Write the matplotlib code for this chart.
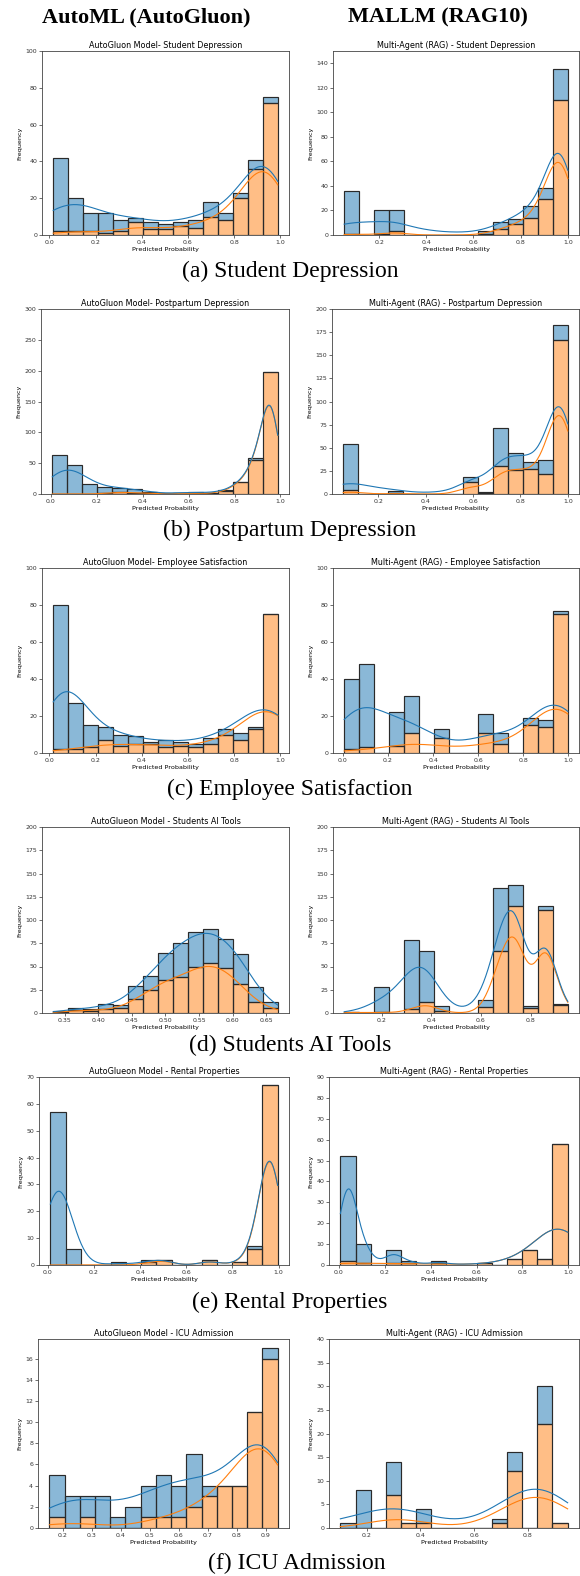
import matplotlib.pyplot as plt
import numpy as np

from typing import List, Tuple
from matplotlib.axes import Axes

# --- bin counts per panel: totals, and the class-1 (orange, bottom) part of each bar ---
# AutoGluon, Student Depression
sd_ag_range = (0.017, 0.989)
sd_ag_total = [42, 20, 12, 12, 8, 9, 7, 6, 7, 8, 18, 12, 23, 41, 75]
sd_ag_pos = [2, 2, 2, 1, 2, 7, 3, 3, 5, 4, 10, 8, 20, 36, 72]
# Multi-Agent, Student Depression
sd_ma_range = (0.052, 1.0)
sd_ma_total = [36, 0, 20, 20, 0, 0, 0, 0, 0, 3, 11, 13, 24, 38, 135]
sd_ma_pos = [1, 0, 1, 3, 0, 0, 0, 0, 0, 1, 5, 9, 14, 29, 110]
# AutoGluon, Postpartum Depression
pp_ag_range = (0.007, 0.988)
pp_ag_total = [63, 47, 16, 11, 9, 8, 3, 1, 1, 4, 2, 6, 20, 58, 198]
pp_ag_pos = [0, 0, 0, 1, 3, 2, 1, 0, 1, 1, 1, 5, 19, 55, 198]
# Multi-Agent, Postpartum Depression
pp_ma_range = (0.052, 1.0)
pp_ma_total = [54, 0, 0, 3, 0, 0, 0, 0, 18, 2, 71, 44, 35, 37, 183]
pp_ma_pos = [4, 0, 0, 1, 0, 0, 0, 0, 13, 1, 30, 26, 27, 22, 166]
# AutoGluon, Employee Satisfaction
es_ag_range = (0.017, 0.989)
es_ag_total = [80, 27, 15, 14, 10, 9, 6, 7, 6, 5, 8, 13, 11, 14, 75]
es_ag_pos = [2, 2, 3, 7, 4, 5, 5, 3, 4, 3, 5, 10, 7, 13, 75]
# Multi-Agent, Employee Satisfaction
es_ma_range = (0.006, 0.997)
es_ma_total = [40, 48, 0, 22, 31, 0, 13, 0, 0, 21, 11, 0, 19, 18, 77]
es_ma_pos = [2, 3, 0, 4, 11, 0, 8, 0, 0, 11, 5, 0, 15, 14, 75]
# AutoGluon, Students AI Tools
ai_ag_range = (0.333, 0.667)
ai_ag_total = [2, 5, 4, 10, 9, 29, 40, 64, 75, 87, 90, 80, 63, 28, 12]
ai_ag_pos = [1, 3, 2, 4, 5, 15, 25, 36, 39, 49, 54, 48, 31, 12, 5]
# Multi-Agent, Students AI Tools
ai_ma_range = (0.049, 0.950)
ai_ma_total = [1, 0, 28, 0, 78, 67, 8, 0, 0, 14, 134, 138, 7, 115, 10]
ai_ma_pos = [1, 0, 1, 0, 4, 12, 2, 0, 0, 6, 67, 115, 5, 111, 9]
# AutoGluon, Rental Properties
rp_ag_range = (0.011, 0.996)
rp_ag_total = [57, 6, 0, 0, 1, 0, 2, 2, 0, 0, 2, 0, 1, 7, 67]
rp_ag_pos = [0, 0, 0, 0, 0, 0, 1, 2, 0, 0, 2, 0, 1, 6, 67]
# Multi-Agent, Rental Properties
rp_ma_range = (0.006, 0.997)
rp_ma_total = [52, 10, 0, 7, 2, 0, 2, 0, 0, 1, 0, 3, 7, 3, 58]
rp_ma_pos = [2, 1, 0, 1, 1, 0, 1, 0, 0, 1, 0, 3, 7, 3, 58]
# AutoGluon, ICU Admission
icu_ag_range = (0.154, 0.941)
icu_ag_total = [5, 3, 3, 3, 1, 2, 4, 5, 4, 7, 4, 4, 4, 11, 17]
icu_ag_pos = [1, 0, 1, 0, 0, 0, 1, 1, 1, 2, 3, 4, 4, 11, 16]
# Multi-Agent, ICU Admission
icu_ma_range = (0.102, 0.948)
icu_ma_total = [1, 8, 0, 14, 1, 4, 0, 0, 0, 0, 2, 16, 0, 30, 1]
icu_ma_pos = [0, 0, 0, 7, 1, 1, 0, 0, 0, 0, 1, 12, 0, 22, 1]

titles = [
    ("AutoGluon Model- Student Depression", "Multi-Agent (RAG) - Student Depression"),
    ("AutoGluon Model- Postpartum Depression", "Multi-Agent (RAG) - Postpartum Depression"),
    ("AutoGluon Model- Employee Satisfaction", "Multi-Agent (RAG) - Employee Satisfaction"),
    ("AutoGlueon Model - Students AI Tools", "Multi-Agent (RAG) - Students AI Tools"),
    ("AutoGlueon Model - Rental Properties", "Multi-Agent (RAG) - Rental Properties"),
    ("AutoGlueon Model - ICU Admission", "Multi-Agent (RAG) - ICU Admission"),
]
captions = ["(a) Student Depression", "(b) Postpartum Depression", "(c) Employee Satisfaction",
            "(d) Students AI Tools", "(e) Rental Properties", "(f) ICU Admission"]
column_headers = ["AutoML (AutoGluon)", "MALLM (RAG10)"]
ylims = [(100, 150), (300, 200), (100, 100), (200, 200), (70, 90), (None, 40)]

panels = [
    [(sd_ag_range, sd_ag_total, sd_ag_pos), (sd_ma_range, sd_ma_total, sd_ma_pos)],
    [(pp_ag_range, pp_ag_total, pp_ag_pos), (pp_ma_range, pp_ma_total, pp_ma_pos)],
    [(es_ag_range, es_ag_total, es_ag_pos), (es_ma_range, es_ma_total, es_ma_pos)],
    [(ai_ag_range, ai_ag_total, ai_ag_pos), (ai_ma_range, ai_ma_total, ai_ma_pos)],
    [(rp_ag_range, rp_ag_total, rp_ag_pos), (rp_ma_range, rp_ma_total, rp_ma_pos)],
    [(icu_ag_range, icu_ag_total, icu_ag_pos), (icu_ma_range, icu_ma_total, icu_ma_pos)],
]

BLUE = '#1f77b4'
ORANGE = '#ff7f0e'
W, H = 580, 1576

# axes boxes in pixels: (left, top, right, bottom) for the two columns of each row
row_boxes = [
    ((42, 51, 289, 235), (333, 51, 579, 235)),
    ((41, 309, 289, 494), (332, 309, 579, 494)),
    ((42, 568, 289, 753), (333, 568, 579, 753)),
    ((42, 827, 289, 1013), (333, 827, 579, 1013)),
    ((39, 1077, 289, 1265), (329, 1077, 579, 1265)),
    ((38, 1339, 289, 1528), (329, 1339, 579, 1528)),
]
caption_y = [271, 530, 789, 1045, 1302, 1563]
caption_x = [290, 290, 290, 290, 290, 297]


def class_kde(centers: np.ndarray, counts: np.ndarray, width: float,
              grid: np.ndarray) -> np.ndarray:
    """Gaussian KDE (Scott bandwidth) of binned samples, scaled to counts."""
    n = counts.sum()
    if n < 2:
        return np.zeros_like(grid)
    mean = (counts * centers).sum() / n
    var = (counts * (centers - mean) ** 2).sum() / (n - 1) + width ** 2 / 12
    bw = 1.1 * n ** (-1 / 5) * np.sqrt(var)
    z = (grid[None, :] - centers[:, None]) / bw
    dens = (counts[:, None] * np.exp(-0.5 * z ** 2)).sum(0) / (n * bw * np.sqrt(2 * np.pi))
    return dens * n * width


def draw_stacked_hist(ax: Axes, xr: Tuple[float, float], total: List[int], pos: List[int]):
    total = np.asarray(total, float)
    pos = np.asarray(pos, float)
    neg = total - pos
    edges = np.linspace(xr[0], xr[1], len(total) + 1)
    width = edges[1] - edges[0]
    centers = edges[:-1] + width / 2

    ax.bar(edges[:-1], pos, width=width, align='edge', color=ORANGE, alpha=0.5,
           edgecolor='none')
    ax.bar(edges[:-1], neg, bottom=pos, width=width, align='edge', color=BLUE, alpha=0.52,
           edgecolor='none')
    # outlines drawn separately so they stay dark
    ax.bar(edges[:-1], pos, width=width, align='edge', fill=False,
           edgecolor='#2a2a2a', linewidth=0.85)
    ax.bar(edges[:-1], neg, bottom=pos, width=width, align='edge', fill=False,
           edgecolor='#2a2a2a', linewidth=0.85)

    grid = np.linspace(xr[0], xr[1], 200)
    k_pos = class_kde(centers, pos, width, grid)
    k_neg = class_kde(centers, neg, width, grid)
    ax.plot(grid, k_pos, color=ORANGE, lw=0.8)
    ax.plot(grid, k_pos + k_neg, color=BLUE, lw=0.8)


def style_axes(ax: Axes, title: str):
    ax.set_title(title, fontsize=5.8, pad=2.5)
    ax.set_xlabel('Predicted Probability', fontsize=4.6, labelpad=1.5)
    ax.set_ylabel('Frequency', fontsize=4.6, labelpad=2)
    ax.tick_params(labelsize=4.5, length=2, width=0.5, pad=1.5, colors='#333333')
    for sp in ax.spines.values():
        sp.set_linewidth(0.6)
        sp.set_color('#444444')


def main():
    fig = plt.figure(figsize=(W / 100, H / 100), dpi=100)

    for r, (row, boxes) in enumerate(zip(panels, row_boxes)):
        for c, ((xr, total, pos), (l, t, rt, b)) in enumerate(zip(row, boxes)):
            ax = fig.add_axes([l / W, 1 - b / H, (rt - l) / W, (b - t) / H])
            draw_stacked_hist(ax, xr, total, pos)
            if ylims[r][c] is not None:
                ax.set_ylim(0, ylims[r][c])
            style_axes(ax, titles[r][c])
        fig.text(caption_x[r] / W, 1 - caption_y[r] / H, captions[r], ha='center',
                 va='center', fontsize=17, family='Liberation Serif')

    for x, header in zip((146, 438), column_headers):
        fig.text(x / W, 1 - 17 / H, header, ha='center', va='center', fontsize=16,
                 fontweight='bold', family='Liberation Serif')

    fig.savefig('out.png', dpi=100)


if __name__ == '__main__':
    main()
